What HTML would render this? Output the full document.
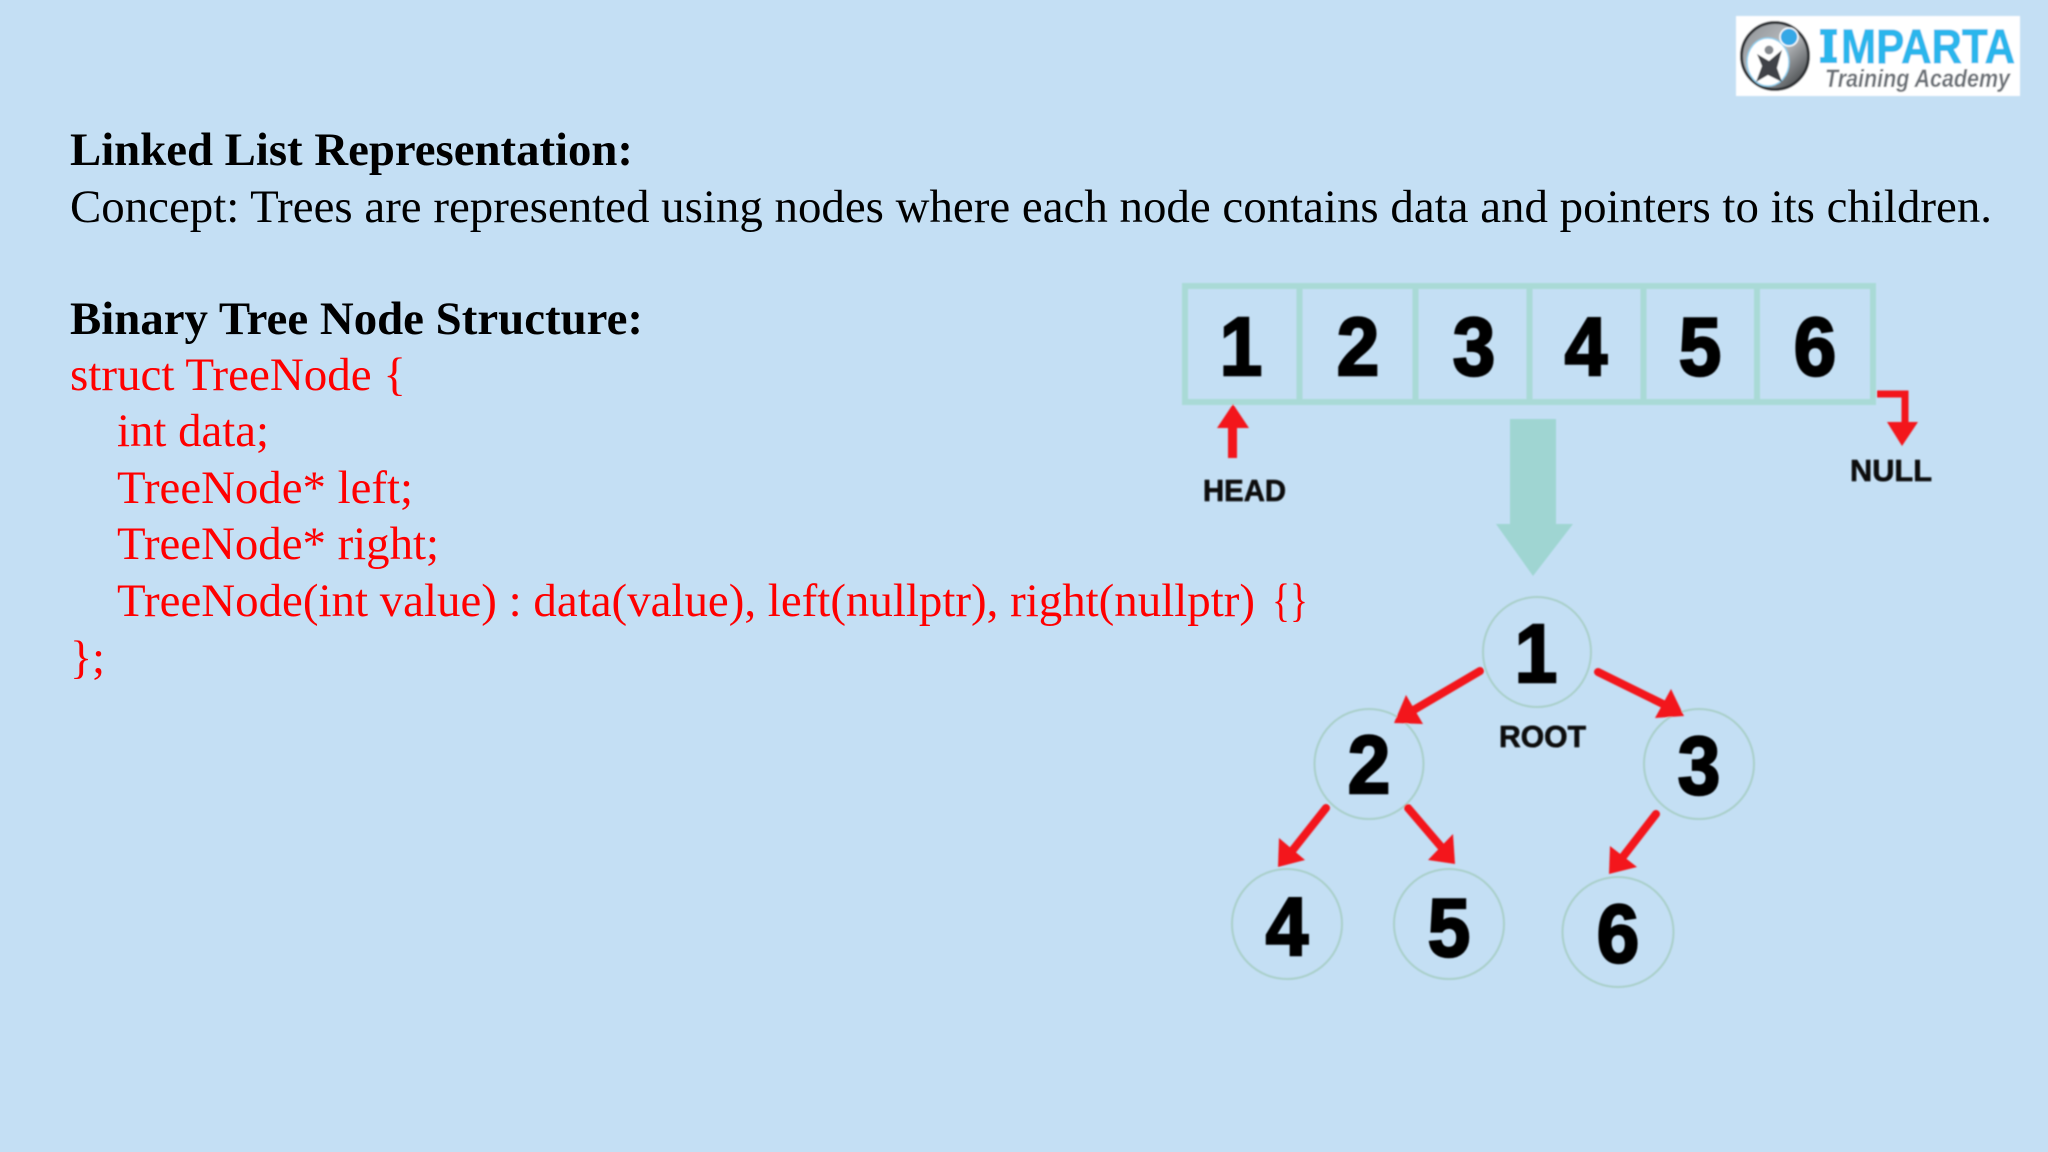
<!DOCTYPE html>
<html><head><meta charset="utf-8"><style>
html,body{margin:0;padding:0;background:#c4dff4;width:2048px;height:1152px;overflow:hidden}
svg{position:absolute;left:0;top:0}
.t{font-family:"Liberation Serif",serif;font-size:46.5px;white-space:pre}
.b{font-weight:bold;fill:#000}
.r{fill:#f00}
.d{font-family:"Liberation Sans",sans-serif;font-weight:bold;font-size:83px;text-anchor:middle;fill:#000;stroke:#000;stroke-width:2.5px}
.l{font-family:"Liberation Sans",sans-serif;font-weight:bold;font-size:31px;fill:#0a0a0a;stroke:#0a0a0a;stroke-width:.6px}
</style></head><body>
<svg width="2048" height="1152" viewBox="0 0 2048 1152" xmlns="http://www.w3.org/2000/svg">
<defs>
<filter id="s" x="-5%" y="-5%" width="110%" height="110%"><feGaussianBlur stdDeviation="0.8"/></filter>
<filter id="s2" x="-2%" y="-2%" width="104%" height="104%"><feGaussianBlur stdDeviation="0.35"/></filter>
<linearGradient id="g" x1="0" y1="0" x2="1" y2="1"><stop offset="0" stop-color="#8b8f93"/><stop offset=".5" stop-color="#b9bcbf"/><stop offset="1" stop-color="#2b2e31"/></linearGradient>
</defs>
<rect width="2048" height="1152" fill="#c4dff4"/>
<g filter="url(#s2)">
<text class="t b" x="70" y="165" textLength="563" lengthAdjust="spacingAndGlyphs">Linked List Representation:</text>
<text class="t" x="70" y="222" textLength="1922" lengthAdjust="spacingAndGlyphs" fill="#000">Concept: Trees are represented using nodes where each node contains data and pointers to its children.</text>
<text class="t b" x="70" y="334" textLength="573" lengthAdjust="spacingAndGlyphs">Binary Tree Node Structure:</text>
<text class="t r" x="70" y="390" textLength="336" lengthAdjust="spacingAndGlyphs">struct TreeNode {</text>
<text class="t r" x="117" y="446" textLength="152" lengthAdjust="spacingAndGlyphs">int data;</text>
<text class="t r" x="117" y="503" textLength="296" lengthAdjust="spacingAndGlyphs">TreeNode* left;</text>
<text class="t r" x="117" y="559" textLength="322" lengthAdjust="spacingAndGlyphs">TreeNode* right;</text>
<text class="t r" x="117" y="616" textLength="1138" lengthAdjust="spacingAndGlyphs">TreeNode(int value) : data(value), left(nullptr), right(nullptr)</text>
<text class="t r" x="1272" y="616" textLength="36" lengthAdjust="spacingAndGlyphs">{}</text>
<text class="t r" x="70" y="673" textLength="35" lengthAdjust="spacingAndGlyphs">};</text>
</g>

<g filter="url(#s)">
<g fill="none" stroke="#a9dad6" stroke-width="6">
<rect x="1185" y="286" width="688" height="116"/>
<path d="M1299.5 286V402M1415.5 286V402M1529.5 286V402M1643.5 286V402M1757 286V402"/>
</g>
<text class="d" transform="translate(1241 375) scale(.92 1)">1</text>
<text class="d" transform="translate(1358 375) scale(.92 1)">2</text>
<text class="d" transform="translate(1474 375) scale(.92 1)">3</text>
<text class="d" transform="translate(1586 375) scale(.92 1)">4</text>
<text class="d" transform="translate(1700 375) scale(.92 1)">5</text>
<text class="d" transform="translate(1815 375) scale(.92 1)">6</text>
<path d="M1510 419H1556V524H1573L1533 576L1496 524H1510Z" fill="#9fd5d2"/>
<path d="M1233 404L1249 428H1237V458H1228V428H1217Z" fill="#f3151f"/>
<path d="M1877 394H1905V423" fill="none" stroke="#f3151f" stroke-width="7"/>
<path d="M1887 422H1918L1902 446Z" fill="#f3151f"/>
<text class="l" x="1203" y="501" textLength="83" lengthAdjust="spacingAndGlyphs">HEAD</text>
<text class="l" x="1850" y="481" textLength="82" lengthAdjust="spacingAndGlyphs">NULL</text>
<text class="l" x="1499" y="747" textLength="87" lengthAdjust="spacingAndGlyphs">ROOT</text>

<g fill="none" stroke="#a9cfc9" stroke-width="2">
<ellipse cx="1537" cy="652" rx="54" ry="55"/><ellipse cx="1369" cy="764" rx="54.5" ry="55"/><ellipse cx="1699" cy="764" rx="55" ry="55"/>
<ellipse cx="1287" cy="924" rx="55" ry="55"/><ellipse cx="1449" cy="924" rx="55" ry="55"/><ellipse cx="1618" cy="932" rx="55.5" ry="55"/>
</g>
<text class="d" transform="translate(1536 682) scale(.92 1)">1</text>
<text class="d" transform="translate(1369 793) scale(.92 1)">2</text>
<text class="d" transform="translate(1699 794) scale(.92 1)">3</text>
<text class="d" transform="translate(1287 955) scale(.92 1)">4</text>
<text class="d" transform="translate(1449 956) scale(.92 1)">5</text>
<text class="d" transform="translate(1618 962) scale(.92 1)">6</text>

<g stroke="#f3151f" stroke-width="8" stroke-linecap="round">
<path d="M1480 671L1412 711M1598 672L1667 706M1326 808L1292 851M1408 808L1443 849M1656 814L1622 858"/>
</g>
<g fill="#f3151f">
<path d="M1394 723L1406 695L1423 724Z"/>
<path d="M1684 716L1655 718L1671 689Z"/>
<path d="M1278 867L1279 838L1305 860Z"/>
<path d="M1455 864L1428 860L1453 834Z"/>
<path d="M1609 874L1610 846L1637 867Z"/>
</g>

<rect x="1736" y="16" width="284" height="80" fill="#fff"/>
<circle cx="1775" cy="56" r="33.5" fill="url(#g)" stroke="#2f3236" stroke-width="3"/>
<ellipse cx="1768" cy="62" rx="21" ry="24" fill="#fff" stroke="#8fd0f0" stroke-width="1.5"/>
<circle cx="1769" cy="50" r="4.5" fill="#85898e"/>
<path d="M1757 54L1769 61L1782 50L1777 68L1782 82L1768 75L1756 82L1762 66Z" fill="#3f4246"/>
<circle cx="1789" cy="37" r="9" fill="#35a8e6" stroke="#fff" stroke-width="1.5"/>
<g fill="#2bb6ec">
<rect x="1820" y="29" width="17" height="6"/><rect x="1820" y="57" width="17" height="6"/><rect x="1824" y="29" width="9" height="34"/>
</g>
<text x="1841" y="63" font-family="Liberation Sans,sans-serif" font-weight="bold" font-size="48" fill="#2bb6ec" stroke="#2bb6ec" stroke-width=".8" textLength="174" lengthAdjust="spacingAndGlyphs">MPARTA</text>
<text x="1825" y="87" font-family="Liberation Sans,sans-serif" font-style="italic" font-weight="bold" font-size="25" fill="#6c7177" textLength="185" lengthAdjust="spacingAndGlyphs">Training Academy</text>
</g>
</svg>
</body></html>
